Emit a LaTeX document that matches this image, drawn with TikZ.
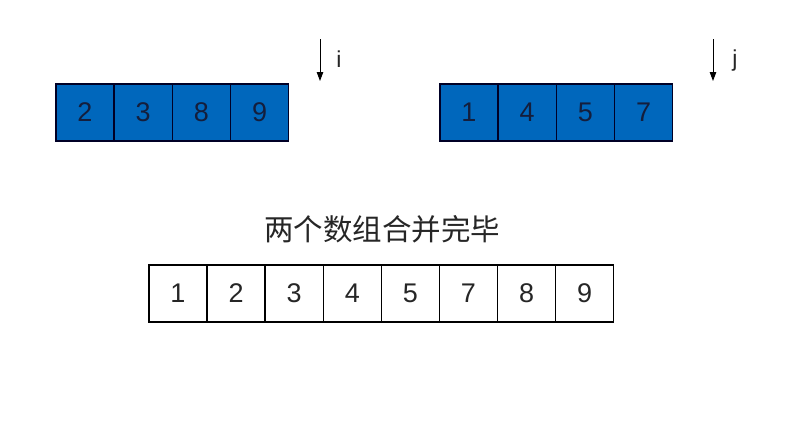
\documentclass[tikz,border=0pt]{standalone}
\usepackage{fontspec}
\setmainfont{Liberation Sans}
\newfontfamily\cjk{Noto Sans CJK SC}
\usetikzlibrary{arrows.meta}
\definecolor{cellblue}{RGB}{0,103,188}
\definecolor{celltext}{RGB}{20,30,60}
\begin{document}
\begin{tikzpicture}[x=1pt,y=-1pt,
  bluecell/.style={draw=black!85!blue,line width=1.4pt,fill=cellblue,minimum width=58pt,minimum height=57pt,inner sep=0pt,font=\fontsize{27}{27}\selectfont,text=celltext},
  whitecell/.style={draw=black,line width=1.4pt,fill=white,minimum width=58pt,minimum height=57pt,inner sep=0pt,font=\fontsize{27}{27}\selectfont,text=black!85},
  ptr/.style={draw=black,line width=0.9pt,-{Triangle[length=9pt,width=6.5pt]}},
  ptrlabel/.style={font=\fontsize{23}{23}\selectfont,text=black!85}]
\useasboundingbox (0,0) rectangle (788,439);
% top-left array
\foreach \v [count=\k from 0] in {2,3,8,9}
  \node[bluecell] (a\k) at ({85+58.2*\k},112.5) {\v};
% top-right array
\foreach \v [count=\k from 0] in {1,4,5,7}
  \node[bluecell] (b\k) at ({469+58.2*\k},112.5) {\v};
% pointers
\coordinate (itop) at (320,39);
\coordinate (ibot) at (320,81);
\draw[ptr] (itop) -- (ibot);
\node[ptrlabel] (ilab) at (339,59) {i};
\coordinate (jtop) at (713,39);
\coordinate (jbot) at (713,81);
\draw[ptr] (jtop) -- (jbot);
\node[ptrlabel] (jlab) at (735,61) {j};
% title
\node[font=\cjk\fontsize{29.5}{29.5}\selectfont,text=black!85] (title) at (382,229) {两个数组合并完毕};
% merged array
\foreach \v [count=\k from 0] in {1,2,3,4,5,7,8,9}
  \node[whitecell] (c\k) at ({178+58.1*\k},293.5) {\v};
\end{tikzpicture}
\end{document}
